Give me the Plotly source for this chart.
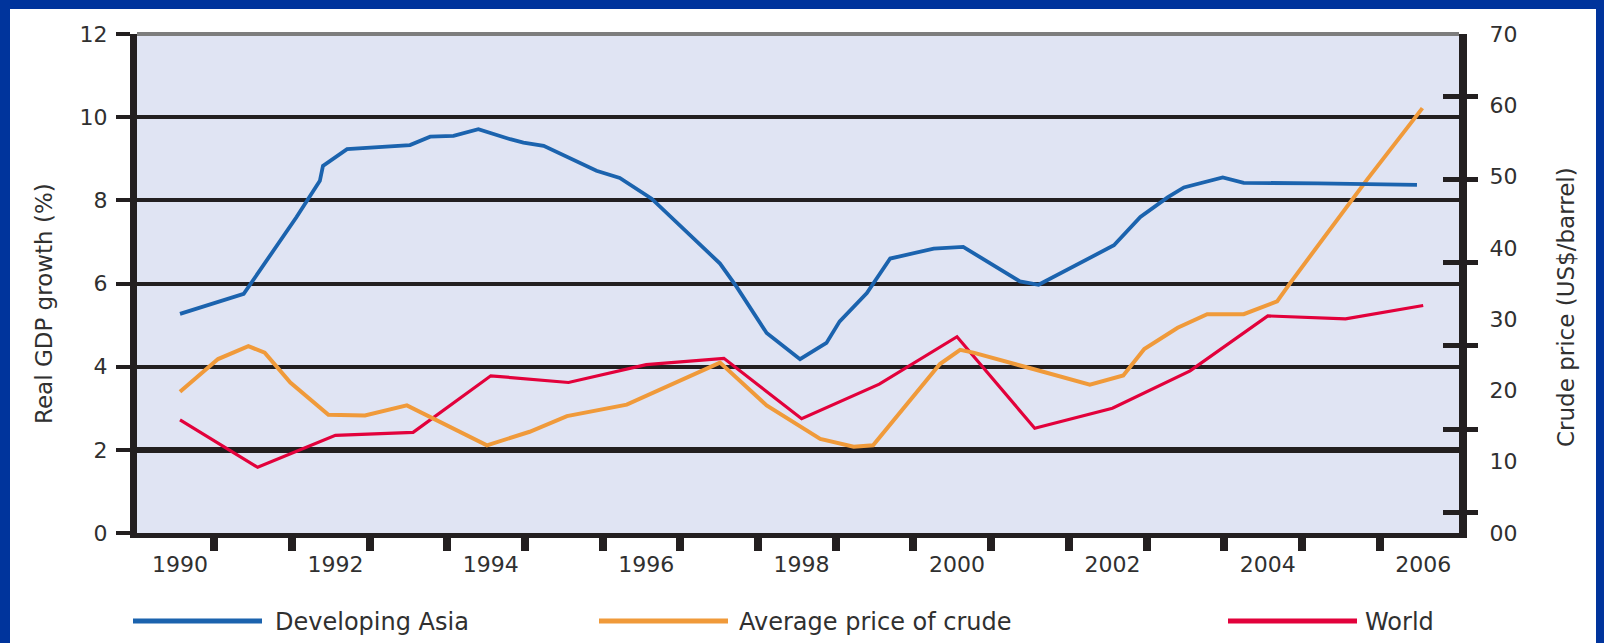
import plotly.graph_objects as go

# ---------------- data ----------------
asia_x = [1990.00, 1990.82, 1991.50, 1991.80, 1991.84, 1992.15, 1992.96, 1993.22, 1993.52, 1993.84,
          1994.25, 1994.42, 1994.68, 1995.36, 1995.66, 1996.07, 1996.95, 1997.16, 1997.55, 1997.98,
          1998.32, 1998.49, 1998.84, 1999.14, 1999.70, 2000.08, 2000.81, 2001.05, 2002.02, 2002.36,
          2002.71, 2002.92, 2003.42, 2003.69, 2004.64, 2005.92]
asia_gdp = [5.27, 5.75, 7.60, 8.47, 8.83, 9.23, 9.33, 9.53, 9.55, 9.71,
            9.47, 9.39, 9.31, 8.71, 8.54, 8.04, 6.48, 5.93, 4.81, 4.18,
            4.57, 5.09, 5.77, 6.60, 6.84, 6.88, 6.05, 5.97, 6.92, 7.60,
            8.07, 8.31, 8.55, 8.42, 8.41, 8.37]

crude_x = [1990.00, 1990.49, 1990.88, 1991.09, 1991.42, 1991.91, 1992.38, 1992.92, 1993.95, 1994.50,
           1994.98, 1995.75, 1996.95, 1997.55, 1998.24, 1998.67, 1998.92, 1999.35, 1999.78, 2000.04,
           2000.21, 2000.98, 2001.71, 2002.14, 2002.41, 2002.84, 2003.22, 2003.69, 2004.12, 2004.29,
           2005.28, 2005.99]
crude_price = [19.8, 24.4, 26.2, 25.3, 21.1, 16.6, 16.5, 17.9, 12.3, 14.2,
               16.4, 18.0, 23.9, 17.9, 13.2, 12.1, 12.3, 17.9, 23.7, 25.7,
               25.3, 23.0, 20.8, 22.1, 25.8, 28.8, 30.7, 30.7, 32.5, 35.1,
               49.6, 59.6]

world_years = [1990, 1991, 1992, 1993, 1994, 1995, 1996, 1997, 1998, 1999,
               2000, 2001, 2002, 2003, 2004, 2005, 2006]
world_gdp = [2.72, 1.58, 2.35, 2.42, 3.78, 3.62, 4.05, 4.20, 2.75, 3.58,
             4.72, 2.52, 3.00, 3.90, 5.22, 5.15, 5.47]

year_labels = [1990, 1992, 1994, 1996, 1998, 2000, 2002, 2004, 2006]
gdp_ticks = [0, 2, 4, 6, 8, 10, 12]
price_ticks = [0, 10, 20, 30, 40, 50, 60, 70]
price_ticktext = ["00", "10", "20", "30", "40", "50", "60", "70"]

series_names = ["Developing Asia", "Average price of crude", "World"]
series_colors = ["#1B63AE", "#F09A3A", "#E2013B"]

# ---------------- layout geometry ----------------
W, H = 1604, 643
L, R, T, B = 137, 145, 34, 110
PW, PH = W - L - R, H - T - B
X_LO = 1990 + (L - 180) / 77.7
X_HI = 1990 + (W - R - 180) / 77.7
GDP_MAX, PRICE_MAX = 12, 70
INK = "#231F20"
TXT = "#303030"
FONT = "DejaVu Sans"

# decorative tick marks of the original artwork
x_minor_ticks = [y + 0.44 for y in world_years[:-1]]
right_cross_ticks = [0.5, 2.5, 4.5, 6.5, 8.5, 10.5]           # in GDP units
right_cross_ticks_price = [v * PRICE_MAX / GDP_MAX for v in right_cross_ticks]


def px(xp):
    return (xp - L) / PW


def py(yp):
    return (H - B - yp) / PH


fig = go.Figure()
fig.add_trace(go.Scatter(x=world_years, y=world_gdp, name=series_names[2], mode="lines",
                         line=dict(color=series_colors[2], width=3.2)))
fig.add_trace(go.Scatter(x=crude_x, y=crude_price, name=series_names[1], mode="lines",
                         line=dict(color=series_colors[1], width=4), yaxis="y2"))
fig.add_trace(go.Scatter(x=asia_x, y=asia_gdp, name=series_names[0], mode="lines",
                         line=dict(color=series_colors[0], width=3.8), yaxis="y3"))

shapes = []
# blue slide frame
for (x0, y0, x1, y1) in [(0, 0, W, 9), (0, 0, 10, H), (W - 8, 0, W, H)]:
    shapes.append(dict(type="rect", xref="paper", yref="paper",
                       x0=px(x0), x1=px(x1), y0=py(y1), y1=py(y0),
                       fillcolor="#00349C", line=dict(width=0), layer="above"))
# grey top border of the plot area
shapes.append(dict(type="line", xref="paper", yref="paper", x0=0, x1=1, y0=1, y1=1,
                   line=dict(color="#7d7d7d", width=4), layer="above"))

# manual legend
legend_items = [(133, 262, 273), (599, 728, 737), (1228, 1357, 1363)]
annotations = []
for (lx0, lx1, tx), name, color in zip(legend_items, series_names, series_colors):
    shapes.append(dict(type="line", xref="paper", yref="paper",
                       x0=px(lx0), x1=px(lx1), y0=py(621), y1=py(621),
                       line=dict(color=color, width=5)))
    annotations.append(dict(text=name, xref="paper", yref="paper", x=px(tx), y=py(622),
                            xanchor="left", yanchor="middle", showarrow=False,
                            font=dict(family=FONT, size=24, color=TXT)))

# axis titles
annotations.append(dict(text="Real GDP growth (%)", xref="paper", yref="paper",
                        x=px(44), y=py(304), textangle=-90, showarrow=False,
                        xanchor="center", yanchor="middle",
                        font=dict(family=FONT, size=23, color=TXT)))
annotations.append(dict(text="Crude price (US$/barrel)", xref="paper", yref="paper",
                        x=px(1566), y=py(307), textangle=-90, showarrow=False,
                        xanchor="center", yanchor="middle",
                        font=dict(family=FONT, size=23, color=TXT)))

tickfont = dict(family=FONT, size=22, color=TXT)

fig.update_layout(
    width=W, height=H,
    margin=dict(l=L, r=R, t=T, b=B, pad=0),
    paper_bgcolor="white",
    plot_bgcolor="#E0E4F3",
    showlegend=False,
    shapes=shapes,
    annotations=annotations,
    xaxis=dict(range=[X_LO, X_HI], tickvals=year_labels, ticktext=[str(v) for v in year_labels],
               ticks="outside", ticklen=8, tickcolor="rgba(0,0,0,0)", tickfont=tickfont,
               showline=True, linecolor=INK, linewidth=5, showgrid=False, zeroline=False,
               minor=dict(tickmode="array", tickvals=x_minor_ticks, ticks="outside",
                          ticklen=13, tickwidth=8, tickcolor=INK, showgrid=False)),
    yaxis=dict(range=[0, GDP_MAX], tickvals=gdp_ticks, ticks="outside", ticklen=14, tickwidth=4,
               tickcolor=INK, tickfont=tickfont, ticklabelstandoff=4,
               showline=True, linecolor=INK, linewidth=7,
               showgrid=True, gridcolor=INK, gridwidth=4, zeroline=False,
               minor=dict(tickmode="array", tickvals=[2], showgrid=True, gridcolor=INK,
                          gridwidth=6, ticks="")),
    yaxis2=dict(range=[0, PRICE_MAX], overlaying="y", side="right", anchor="x",
                tickvals=price_ticks, ticktext=price_ticktext, ticks="outside", ticklen=18,
                tickcolor="rgba(0,0,0,0)", tickfont=tickfont, showline=True, linecolor=INK,
                linewidth=8, showgrid=False, zeroline=False,
                minor=dict(tickmode="array", tickvals=right_cross_ticks_price, ticks="outside",
                           ticklen=11, tickwidth=5, tickcolor=INK, showgrid=False)),
    yaxis3=dict(range=[0, GDP_MAX], overlaying="y", side="right", anchor="x",
                tickvals=right_cross_ticks, ticks="inside", ticklen=16,
                tickwidth=5, tickcolor=INK, showticklabels=False, showline=False,
                showgrid=False, zeroline=False),
)

fig.write_html("out.html", config={"displayModeBar": False},
               post_script="document.body.style.margin='0';")
